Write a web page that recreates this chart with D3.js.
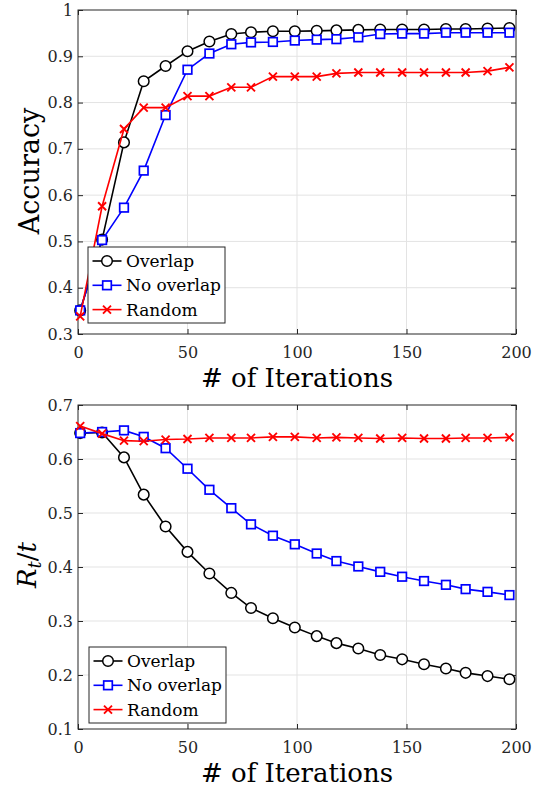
<!DOCTYPE html>
<html>
<head>
  <meta charset="utf-8">
  <title>Accuracy and R_t/t vs iterations</title>
  <script src="https://d3js.org/d3.v7.min.js"></script>
</head>
<style>
  body { margin: 0; background: #fff; }
  .grid line { stroke: #e3e3e3; stroke-width: 1; }
  .axis path { display: none; }
  .axis line { stroke: #262626; }
  .axis text { fill: #262626; font-size: 16px; }
</style>
<body>
<svg id="chart" width="539" height="790"></svg>
<script>
const FONT = "'DejaVu Serif', serif";

// iteration positions of the markers
const iterations = [1, 11, 21, 30, 40, 50, 60, 70, 79, 89, 99, 109, 118, 128, 138, 148, 158, 168, 177, 187, 197];

// top panel: accuracy
const accOverlap   = [0.351, 0.504, 0.714, 0.846, 0.879, 0.911, 0.932, 0.948, 0.952, 0.954, 0.954, 0.955, 0.956, 0.957, 0.958, 0.958, 0.958, 0.959, 0.959, 0.960, 0.961];
const accNoOverlap = [0.351, 0.503, 0.573, 0.653, 0.773, 0.871, 0.906, 0.926, 0.930, 0.931, 0.934, 0.936, 0.937, 0.941, 0.948, 0.949, 0.949, 0.951, 0.951, 0.951, 0.951];
const accRandom    = [0.338, 0.576, 0.743, 0.789, 0.789, 0.814, 0.814, 0.833, 0.833, 0.856, 0.856, 0.856, 0.863, 0.865, 0.865, 0.865, 0.865, 0.865, 0.865, 0.868, 0.876];

// bottom panel: R_t / t
const rtOverlap   = [0.648, 0.649, 0.603, 0.534, 0.475, 0.428, 0.388, 0.352, 0.324, 0.305, 0.288, 0.272, 0.259, 0.249, 0.237, 0.229, 0.220, 0.212, 0.204, 0.198, 0.192];
const rtNoOverlap = [0.648, 0.650, 0.653, 0.641, 0.620, 0.582, 0.543, 0.509, 0.479, 0.458, 0.442, 0.425, 0.411, 0.401, 0.391, 0.382, 0.374, 0.367, 0.359, 0.354, 0.348];
const rtRandom    = [0.661, 0.647, 0.634, 0.633, 0.636, 0.637, 0.639, 0.639, 0.639, 0.641, 0.641, 0.639, 0.640, 0.639, 0.638, 0.639, 0.638, 0.638, 0.639, 0.639, 0.640];

const seriesNames = ["Overlap", "No overlap", "Random"];
const xTicks = [0, 50, 100, 150, 200];
const accTicks = [0.3, 0.4, 0.5, 0.6, 0.7, 0.8, 0.9, 1];
const rtTicks = [0.1, 0.2, 0.3, 0.4, 0.5, 0.6, 0.7];

const styles = [
  { color: "#000000", marker: "circle" },
  { color: "#0000ff", marker: "square" },
  { color: "#ff0000", marker: "cross" }
];

const svg = d3.select("#chart");

function drawMarker(g, type, color) {
  if (type === "circle") {
    g.append("circle").attr("r", 5.3).attr("fill", "#fff").attr("stroke", color).attr("stroke-width", 1.5);
  } else if (type === "square") {
    g.append("rect").attr("x", -4.3).attr("y", -4.3).attr("width", 8.6).attr("height", 8.6)
      .attr("fill", "#fff").attr("stroke", color).attr("stroke-width", 1.7);
  } else {
    g.append("path").attr("d", "M-4,-4L4,4M-4,4L4,-4").attr("stroke", color).attr("stroke-width", 1.9).attr("fill", "none");
  }
}

function panel(opts) {
  const { top, bottom, left, right, yDomain, yTicks, series, yFormat } = opts;
  const x = d3.scaleLinear().domain([0, 200]).range([left, right]);
  const y = d3.scaleLinear().domain(yDomain).range([bottom, top]);
  const g = svg.append("g");

  // grid
  const grid = g.append("g").attr("class", "grid");
  grid.selectAll(".gx").data(xTicks.slice(1, -1)).join("line")
    .attr("x1", d => x(d)).attr("x2", d => x(d)).attr("y1", top).attr("y2", bottom);
  grid.selectAll(".gy").data(yTicks.slice(1, -1)).join("line")
    .attr("y1", d => y(d)).attr("y2", d => y(d)).attr("x1", left).attr("x2", right);

  // axes with inward ticks
  g.append("g").attr("class", "axis").attr("transform", `translate(0,${bottom})`)
    .call(d3.axisBottom(x).tickValues(xTicks).tickSizeInner(-5).tickSizeOuter(0).tickPadding(13).tickFormat(d3.format("d")));
  g.append("g").attr("class", "axis").attr("transform", `translate(0,${top})`)
    .call(d3.axisTop(x).tickValues(xTicks).tickSizeInner(-5).tickSizeOuter(0).tickFormat(""));
  g.append("g").attr("class", "axis").attr("transform", `translate(${left},0)`)
    .call(d3.axisLeft(y).tickValues(yTicks).tickSizeInner(-5).tickSizeOuter(0).tickPadding(5).tickFormat(yFormat));
  g.append("g").attr("class", "axis").attr("transform", `translate(${right},0)`)
    .call(d3.axisRight(y).tickValues(yTicks).tickSizeInner(-5).tickSizeOuter(0).tickFormat(""));

  // box
  g.append("rect").attr("x", left).attr("y", top).attr("width", right - left).attr("height", bottom - top)
    .attr("fill", "none").attr("stroke", "#262626").attr("stroke-width", 1);

  const line = d3.line().x((d, i) => x(iterations[i])).y(d => y(d));
  series.forEach((vals, si) => {
    const st = styles[si];
    g.append("path").datum(vals).attr("d", line)
      .attr("fill", "none").attr("stroke", st.color).attr("stroke-width", 1.6);
    vals.forEach((v, i) => {
      const m = g.append("g").attr("transform", `translate(${x(iterations[i])},${y(v)})`);
      drawMarker(m, st.marker, st.color);
    });
  });

  // legend
  const lg = g.append("g").attr("transform", `translate(${opts.legendX},${opts.legendY})`);
  lg.append("rect").attr("width", 137).attr("height", 76).attr("fill", "#fff")
    .attr("stroke", "#262626").attr("stroke-width", 1);
  seriesNames.forEach((name, i) => {
    const row = lg.append("g").attr("transform", `translate(0,${14 + i * 24.3})`);
    row.append("line").attr("x1", 4.5).attr("x2", 33.5).attr("stroke", styles[i].color).attr("stroke-width", 1.6);
    drawMarker(row.append("g").attr("transform", "translate(19,0)"), styles[i].marker, styles[i].color);
    row.append("text").attr("x", 38).attr("dy", "0.36em").attr("font-size", 17).attr("fill", "#000").text(name);
  });

  // x label
  g.append("text").attr("x", (left + right) / 2).attr("y", bottom + 53)
    .attr("text-anchor", "middle").attr("font-size", 26).attr("fill", "#000").text("# of Iterations");
  return g;
}

panel({
  top: 10, bottom: 334, left: 78, right: 516,
  yDomain: [0.3, 1], yTicks: accTicks, yFormat: d => d === 1 ? "1" : d3.format(".1f")(d),
  series: [accOverlap, accNoOverlap, accRandom],
  legendX: 88, legendY: 247
});
svg.append("text").attr("transform", "translate(39,171) rotate(-90)")
  .attr("text-anchor", "middle").attr("font-size", 27).attr("fill", "#000").text("Accuracy");

panel({
  top: 405, bottom: 729, left: 78, right: 516,
  yDomain: [0.1, 0.7], yTicks: rtTicks, yFormat: d3.format(".1f"),
  series: [rtOverlap, rtNoOverlap, rtRandom],
  legendX: 89, legendY: 647
});
const rl = svg.append("text").attr("transform", "translate(36,565) rotate(-90)")
  .attr("text-anchor", "middle").attr("font-size", 26).attr("fill", "#000");
rl.append("tspan").attr("font-style", "italic").text("R");
rl.append("tspan").attr("font-style", "italic").attr("font-size", 18).attr("dy", 5).text("t");
rl.append("tspan").attr("dy", -5).text("/");
rl.append("tspan").attr("font-style", "italic").text("t");

// one serif face for every label
svg.selectAll("text").style("font-family", FONT);
</script>
</body>
</html>
